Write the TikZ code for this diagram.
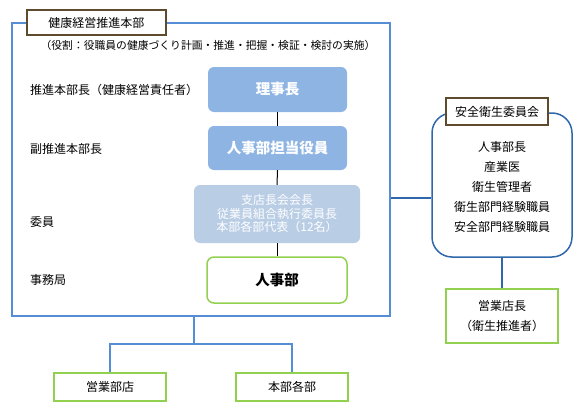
\documentclass[tikz,border=0pt]{standalone}
\usepackage{fontspec}
\setmainfont{Noto Sans CJK JP}
\definecolor{frameblue}{HTML}{558ED5}
\definecolor{darkblue}{HTML}{2E68AA}
\definecolor{boxblue}{HTML}{8EB4E3}
\definecolor{lightblue}{HTML}{B9CDE5}
\definecolor{green1}{HTML}{92D050}
\definecolor{brown1}{HTML}{5E4B2E}
\tikzset{
  titlebox/.style={draw=brown1,line width=1.5pt,fill=white,inner sep=0pt,font=\fontsize{12}{14}\selectfont},
  bluebox/.style={fill=boxblue,rounded corners=6pt,minimum width=139pt,minimum height=45pt,text=white,font=\fontsize{14.5}{16}\selectfont\bfseries,inner sep=0pt},
  lbox/.style={fill=lightblue,rounded corners=6pt,minimum width=166pt,minimum height=58pt,text=white,font=\fontsize{12}{13.5}\selectfont,align=center,inner sep=0pt},
  greenbox/.style={draw=green1,line width=1.5pt,fill=white,inner sep=0pt,font=\fontsize{12}{20}\selectfont,align=center},
  lbl/.style={anchor=west,inner sep=0pt,font=\fontsize{12}{14}\selectfont},
  conn/.style={line width=1pt,black},
}
\begin{document}
\begin{tikzpicture}[x=1pt,y=-1pt]
\useasboundingbox (0,0) rectangle (587,415);
% main frame
\node[draw=frameblue,line width=1.5pt,minimum width=378pt,minimum height=293pt,inner sep=0pt] (main) at (201,169.5) {};
\node[titlebox,minimum width=139pt,minimum height=25pt] (mt) at (96.5,22.5) {健康経営推進本部};
\node[inner sep=0pt,font=\fontsize{10.8}{12}\selectfont] (sub) at (208,45) {（役割：役職員の健康づくり計画・推進・把握・検証・検討の実施）};
% left labels
\node[lbl] (l1) at (30,90) {推進本部長（健康経営責任者）};
\node[lbl] (l2) at (30,149) {副推進本部長};
\node[lbl] (l3) at (30,222) {委員};
\node[lbl] (l4) at (30,280) {事務局};
% center boxes
\node[bluebox] (rj) at (277.5,89.5) {理事長};
\node[bluebox,minimum height=44pt] (jt) at (277.5,148) {人事部担当役員};
\node[lbox] (ii) at (277,214) {支店長会会長\\従業員組合執行委員長\\本部各部代表（12名）};
\node[greenbox,rounded corners=7pt,minimum width=140pt,minimum height=46pt,font=\fontsize{14.5}{16}\selectfont\bfseries] (jj) at (277,280) {人事部};
\draw[conn] (rj.south) -- (jt.north);
\draw[conn] (jt.south) -- (ii.north);
\draw[conn] (ii.south) -- (jj.north);
% right committee
\node[draw=darkblue,line width=1.5pt,rounded corners=20pt,minimum width=140pt,minimum height=144pt,inner sep=0pt] (rb) at (502,185) {};
\node[titlebox,minimum width=102pt,minimum height=27pt] (rt) at (497,111.5) {安全衛生委員会};
\node[inner sep=0pt,align=center,font=\fontsize{12}{20}\selectfont,anchor=north] (rc) at (502,141) {人事部長\\産業医\\衛生管理者\\衛生部門経験職員\\安全部門経験職員};
\draw[darkblue,line width=1.5pt] (main.east |- 0,198) -- (rb.west |- 0,198);
% 営業店長
\node[greenbox,minimum width=112pt,minimum height=54pt] (ec) at (502,316) {営業店長\\（衛生推進者）};
\draw[darkblue,line width=1.5pt] (rb.south) -- (ec.north);
% bottom
\node[greenbox,minimum width=112pt,minimum height=28pt] (bu) at (110,387) {営業部店};
\node[greenbox,minimum width=112pt,minimum height=28pt] (hb) at (292,387) {本部各部};
\coordinate (j) at (194,344);
\draw[frameblue,line width=1.5pt] (main.south -| j) -- (j);
\draw[frameblue,line width=1.5pt] (bu.north) |- (j) -| (hb.north);
\end{tikzpicture}
\end{document}
